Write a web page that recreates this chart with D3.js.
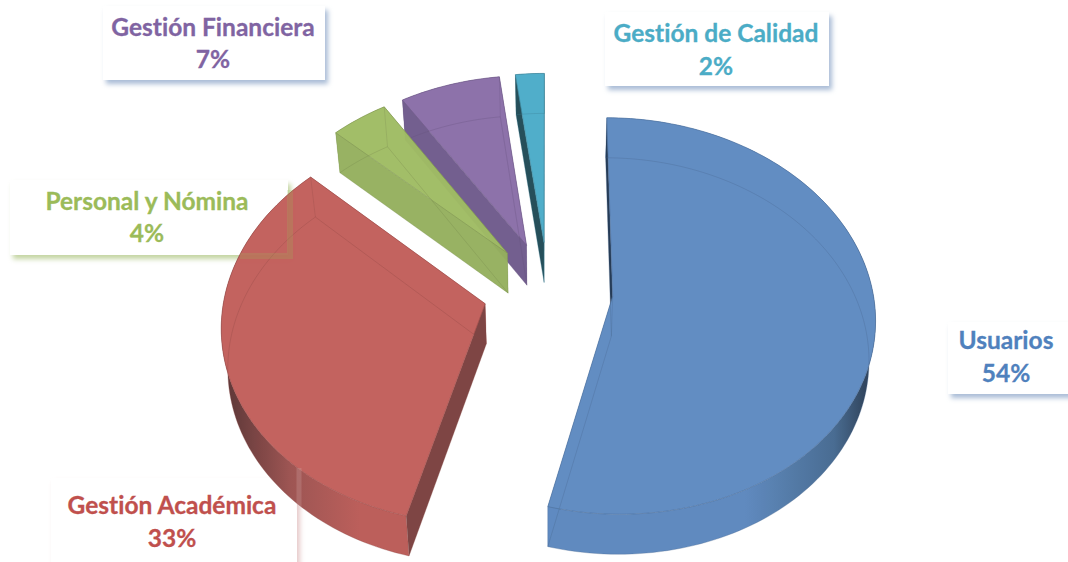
<!DOCTYPE html>
<html>
<head>
<meta charset="utf-8">
<script src="https://cdn.jsdelivr.net/npm/d3@7"></script>
<style>
  body { margin: 0; background: #fff; }
  svg { display: block; }
  text {
    font-family: Lato, "Open Sans", sans-serif;
    font-weight: 700;
    font-variant-ligatures: none;
    text-anchor: middle;
    stroke-width: 0.3;
  }
</style>
</head>
<body>
<div id="chart"></div>
<script>
// data, clockwise from the top
const categories = ["Usuarios", "Gestión Académica", "Personal y Nómina", "Gestión Financiera", "Gestión de Calidad"];
const percents = [54, 33, 4, 7, 2];

// colours, same order as categories
const textColors = ["#4f81bd", "#c0504d", "#9bbb59", "#8064a2", "#4bacc6"];
const topColors = ["#5d8ac1", "#c25e5a", "#a0bc64", "#8a6ea8", "#4bacc9"];
const startWallColors = ["#1f3550", "#7a403e", "#95b05e", "#6f5a8c", "#1f4a55"];
const endWallColors = ["#5a87bf", "#b05552", "#95b05e", "#6f5a8c", "#1f4a55"];
const rimDark = ["#2c425c", "#5e3434", "#95b05e", "#6f5a8c", "#1f4a55"];
const rimMid = ["#44688f", "#9a504e", "#95b05e", "#6f5a8c", "#1f4a55"];
const rimLight = ["#5b87bd", "#ba5a56", "#95b05e", "#6f5a8c", "#1f4a55"];
const shadowColors = ["#a9bcd6", "#e6c9c9", "#c3d4a0", "#a9bcd6", "#a9bcd6"];

// label boxes: x, y, w, h, then text centre and the two baselines
const boxes = [
    [948, 322, 130, 72, 1006, 349, 382],
    [51, 478, 246, 100, 172, 514, 547],
    [10, 180, 278, 75, 147, 210, 242],
    [103, 6, 222, 74, 213, 36, 68],
    [605, 12, 224, 74, 716, 42, 75]
];

const width = 1068, height = 562;
const cx = 548, cy = 290;      // common centre of the pie
const explode = 0.25;          // how far each slice is pulled out
const persp = 0.1;             // how fast far points shrink
const thickness = 40;
const inset = 0.98;            // the lower face sits slightly toward the centre

const xScale = d3.scaleLinear().domain([-1, 1]).range([cx - 260, cx + 260]);
const yScale = d3.scaleLinear().domain([-1, 1]).range([cy + 195, cy - 195]);

const slices = d3.pie().sort(null).value(d => d)(percents);

// ground plane to screen
function project(d, r, theta, lower) {
    const mid = (d.startAngle + d.endAngle) / 2;
    const X = explode * Math.sin(mid) + r * Math.sin(theta);
    const Y = explode * Math.cos(mid) + r * Math.cos(theta);
    const s = 1 / (1 + persp * Y);
    let x = xScale(X * s), y = yScale(Y * s);
    if (lower) {
        x = cx + (x - cx) * inset;
        y += thickness;
    }
    return [x, y];
}

function rimPoints(d, lower) {
    const n = Math.max(6, Math.ceil((d.endAngle - d.startAngle) * 40));
    return d3.range(n + 1).map(i => {
        const t = d.startAngle + (d.endAngle - d.startAngle) * i / n;
        return project(d, 1, t, lower);
    });
}

const line = d3.line();
const closed = pts => line(pts) + "Z";

const svg = d3.select("#chart").append("svg")
    .attr("width", width)
    .attr("height", height);

const defs = svg.append("defs");

// label shadows
shadowColors.forEach((c, i) => {
    defs.append("filter")
        .attr("id", "shadow" + i)
        .attr("x", "-10%").attr("y", "-20%")
        .attr("width", "120%").attr("height", "140%")
        .append("feDropShadow")
        .attr("dx", 3).attr("dy", 4)
        .attr("stdDeviation", 2.5)
        .attr("flood-color", c);
});

// side wall gradients, dark towards the far side of the rim
slices.forEach((d, i) => {
    const blue = i === 0;
    const g = defs.append("linearGradient")
        .attr("id", "rim" + i)
        .attr("gradientUnits", "userSpaceOnUse")
        .attr("x1", blue ? 745 : 232).attr("x2", blue ? 864 : 360)
        .attr("y1", 0).attr("y2", 0);
    g.append("stop").attr("offset", 0).attr("stop-color", blue ? rimLight[i] : rimDark[i]);
    g.append("stop").attr("offset", blue ? 0.75 : 0.45).attr("stop-color", rimMid[i]);
    g.append("stop").attr("offset", 1).attr("stop-color", blue ? rimDark[i] : rimLight[i]);
});

// label boxes sit behind the pie
const labels = svg.append("g");
boxes.forEach((b, i) => {
    labels.append("rect")
        .attr("x", b[0]).attr("y", b[1])
        .attr("width", b[2]).attr("height", b[3])
        .attr("fill", "#fff")
        .attr("filter", `url(#shadow${i})`);
});

// far slices first so the near ones paint over them
[4, 3, 2, 1, 0].forEach(i => {
    const d = slices[i];
    const g = svg.append("g").attr("opacity", 0.97);
    const top = rimPoints(d, false), low = rimPoints(d, true);
    const apex = project(d, 0, 0, false), apexLow = project(d, 0, 0, true);

    // outer rim
    g.append("path")
        .attr("d", closed(top.concat(low.slice().reverse())))
        .attr("fill", `url(#rim${i})`);

    // the two cut walls, the hidden one first
    g.append("path")
        .attr("d", closed([apex, top[top.length - 1], low[low.length - 1], apexLow]))
        .attr("fill", endWallColors[i]);
    g.append("path")
        .attr("d", closed([apex, top[0], low[0], apexLow]))
        .attr("fill", startWallColors[i]);

    // upper face
    g.append("path")
        .attr("d", closed([apex].concat(top)))
        .attr("fill", topColors[i])
        .attr("stroke", d3.color(topColors[i]).darker(0.6))
        .attr("stroke-width", 0.7);

    // lower face showing through
    g.append("path")
        .attr("d", closed([apexLow].concat(low)))
        .attr("fill", "none")
        .attr("stroke", d3.color(topColors[i]).darker(1))
        .attr("stroke-opacity", 0.3)
        .attr("stroke-width", 1);

    // upright edges at the corners
    [[apex, apexLow], [top[0], low[0]], [top[top.length - 1], low[low.length - 1]]].forEach(e => {
        g.append("path")
            .attr("d", line(e))
            .attr("stroke", d3.color(topColors[i]).darker(1))
            .attr("stroke-opacity", 0.25);
    });
});

// the label shadows that show through the red slice
svg.append("path")
    .attr("d", line([[290, 190], [290, 256], [240, 256]]))
    .attr("fill", "none")
    .attr("stroke", "#9bbb59")
    .attr("stroke-opacity", 0.22)
    .attr("stroke-width", 6);
svg.append("path")
    .attr("d", line([[299, 468], [299, 510]]))
    .attr("stroke", "#e6c9c9")
    .attr("stroke-opacity", 0.2)
    .attr("stroke-width", 5);

// label text on top
boxes.forEach((b, i) => {
    svg.append("text")
        .attr("x", b[4]).attr("y", b[5])
        .attr("font-size", 24.5)
        .attr("fill", textColors[i])
        .attr("stroke", textColors[i])
        .text(categories[i]);
    svg.append("text")
        .attr("x", b[4]).attr("y", b[6])
        .attr("font-size", 24.5)
        .attr("fill", textColors[i])
        .attr("stroke", textColors[i])
        .text(percents[i] + "%");
});
</script>
</body>
</html>
